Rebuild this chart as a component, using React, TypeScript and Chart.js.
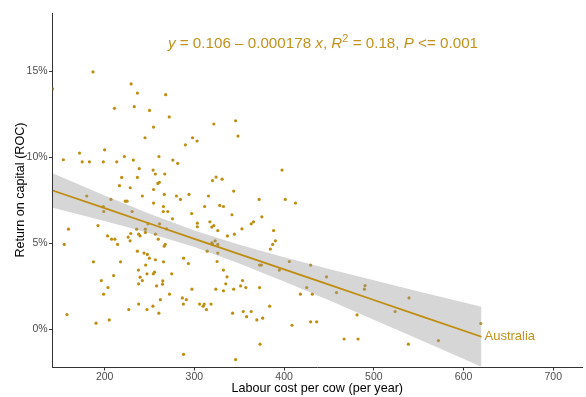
import React, { useEffect, useRef } from "react";
import { Chart, registerables } from "chart.js";

Chart.register(...registerables);

// Scatter data: labour cost per cow (x) and return on capital in % (y)
const LABOUR_COST = [
  142, 187, 229.5, 236.5, 268, 211, 233, 250, 272, 254.5, 245, 298, 303, 290, 172, 200, 154, 175, 183, 198.5,
  213.5, 222, 232, 260.5, 276, 281.5, 238.5, 254, 256.5, 267, 219, 236.5, 216.5, 228.5, 259.3, 261, 254.5, 180,
  207, 223, 225, 242, 266.5, 280, 284.5, 294, 254.5, 265.5, 198.5,
  199, 265.3, 270.4, 230.6, 297, 275.6, 303.3, 303.3, 159.7, 192.6, 261.2, 248.3, 235.7, 245.4, 245.4, 229.1,
  237.9, 239.5, 226.2, 203.3, 207.7, 211.4, 228.4, 256.7, 259.7, 268.9, 214.4, 155, 267.5, 266.4, 236.5, 243.9,
  247.6, 249.8, 256.5, 265.6, 288, 293.3, 187.5, 217.7, 245.7, 237.6, 210, 239.5, 247.2, 254.2, 255.6, 274.8,
  196.3, 242, 237.9, 257.9, 264.8, 264.5, 203.7, 198.9, 272.3, 297.3, 262.1, 286.6, 291, 287.7, 237.9, 253.8,
  226.9, 247.2, 260.4, 158, 205.2, 190.4, 288,
  311.4, 328.3, 332.4, 341.9, 375.2, 317.3, 321.7, 319.5, 326.1, 363.3, 365.9, 353, 388.3, 336.8, 344.6, 390.3,
  387.3, 384.7, 323.1, 319.5, 320.3, 326.1, 314.3, 326.1, 325.3, 372.6, 374.8, 405.8, 429.6, 394.7, 447.3, 332.4,
  336.4, 353.7, 335, 351.5, 357.4, 372.6, 323.9, 332.4, 343.8, 425.2, 418.1, 431.4, 458.4, 305.8, 309.8, 311,
  313.5, 318.6, 342.6, 354.5, 358.2, 363.3, 369.6, 376.1, 383.9, 408.8, 429.6, 436.3, 373.2, 346,
  321.7, 346, 348.6, 397.7, 324.2, 320.2, 330.9, 343.8, 315.7, 372.2, 401.3, 412.7,
  490.2, 489.5, 481.3, 539.2, 523.7, 619.2, 466.9, 482.4, 538.5, 572,
];
const ROC = [
  13.98, 14.97, 14.27, 13.74, 13.65, 12.85, 12.95, 12.73, 12.35, 11.76, 11.14, 11.14, 10.95, 10.73, 10.25, 10.44,
  9.86, 9.74, 9.74, 9.74, 9.74, 10.05, 9.84, 10.05, 9.84, 9.65, 9.34, 9.26, 9.03, 9.03, 8.83, 8.83, 8.35, 8.23,
  8.48, 8.55, 8.13, 7.75, 7.55, 7.45, 7.45, 7.75, 7.84, 7.75, 7.55, 7.84, 7.34, 7.14, 7.14,
  6.85, 6.85, 6.85, 6.85, 6.73, 6.42, 6.17, 5.96, 5.82, 6.03, 6.13, 6.13, 5.82, 5.82, 5.63, 5.57, 5.53, 5.43,
  5.36, 5.43, 5.24, 5.24, 5.14, 5.53, 5.24, 5.84, 4.93, 4.93, 4.93, 4.83, 4.54, 4.43, 4.35, 4.13, 4.04, 3.92,
  4.13, 3.82, 3.92, 3.92, 3.73, 3.44, 3.12, 3.03, 3.22, 3.22, 3.32, 3.22, 2.83, 2.83, 2.64, 2.52, 2.81, 2.62,
  2.42, 2.04, 2.04, 2.33, 1.72, 1.82, 1.72, 1.46, 1.46, 1.34, 1.14, 1.14, 0.93, 0.85, 0.54, 0.35, -1.46,
  7.14, 7.2, 7.14, 6.66, 6.54, 6.25, 6.03, 5.94, 5.74, 6.13, 6.25, 5.84, 5.74, 5.43, 5.53, 5.14, 4.93, 4.66,
  5.14, 5.03, 4.93, 4.93, 4.54, 4.43, 3.94, 3.73, 3.73, 3.94, 3.73, 3.44, 3.05, 3.44, 3.05, 2.83, 2.64, 2.52,
  2.42, 2.42, 2.33, 2.23, 2.33, 2.42, 2.04, 2.04, 2.13, 1.46, 1.34, 1.46, 1.14, 1.46, 0.93, 1.03, 0.73, 1.03,
  0.54, 0.64, 1.34, 0.23, 0.43, 0.43, -0.87, -1.77,
  11.94, 12.13, 11.24, 9.26, 8.85, 8.65, 8.73, 8.04, 7.75, 7.55, 7.55, 7.34,
  2.54, 2.33, 0.83, 1.82, 1.03, 0.33, -0.57, -0.57, -0.87, -0.66,
];

// Fitted line and its confidence band (in %)
const FIT_X = [142, 200, 250, 300, 350, 400, 450, 500, 550, 620];
const FIT_Y = [8.07, 7.04, 6.15, 5.26, 4.37, 3.48, 2.59, 1.7, 0.81, -0.44];
const BAND_UPPER = [9.07, 7.78, 6.72, 5.74, 4.91, 4.18, 3.5, 2.85, 2.2, 1.31];
const BAND_LOWER = [7.07, 6.3, 5.58, 4.78, 3.83, 2.78, 1.68, 0.55, -0.58, -2.19];

const X_TICKS = [200, 300, 400, 500, 600, 700];
const Y_TICKS = [0, 5, 10, 15];
const X_MIN = 142;
const X_MAX = 732;
const Y_MIN = -2.2;
const Y_MAX = 18.4;

const X_TITLE = "Labour cost per cow (per year)";
const Y_TITLE = "Return on capital (ROC)";
const SERIES_LABEL = "Australia";
const EQUATION_PARTS = [
  { t: "y", italic: true },
  { t: " = 0.106 \u2013 0.000178 " },
  { t: "x", italic: true },
  { t: ", " },
  { t: "R", italic: true },
  { t: "2", sup: true },
  { t: " = 0.18, " },
  { t: "P", italic: true },
  { t: " <= 0.001" },
];

const FONT = "'Liberation Sans', Arial, sans-serif";
const GOLD = "#BF8D0F";
const TEXT_GOLD = "#C4921A";

export default function App() {
  const ref = useRef<HTMLCanvasElement | null>(null);

  useEffect(() => {
    document.body.style.margin = "0";
    const canvas = ref.current;
    if (!canvas) return;

    const labelPlugin = {
      id: "labels",
      afterDatasetsDraw(chart: any) {
        const ctx = chart.ctx as CanvasRenderingContext2D;
        const xs = chart.scales.x;
        const ys = chart.scales.y;
        ctx.save();
        // series label at end of fitted line
        ctx.fillStyle = TEXT_GOLD;
        ctx.font = `13px ${FONT}`;
        ctx.textBaseline = "middle";
        ctx.textAlign = "left";
        const lastX = FIT_X[FIT_X.length - 1];
        const lastY = FIT_Y[FIT_Y.length - 1];
        ctx.fillText(SERIES_LABEL, xs.getPixelForValue(lastX) + 3, ys.getPixelForValue(lastY));

        // equation
        const size = 15.2;
        const fontFor = (p: any) =>
          `${p.italic ? "italic " : ""}${p.sup ? Math.round(size * 0.72) : size}px ${FONT}`;
        let total = 0;
        for (const p of EQUATION_PARTS) {
          ctx.font = fontFor(p);
          total += ctx.measureText(p.t).width;
        }
        let cx = 323 - total / 2;
        const base = 48;
        ctx.textBaseline = "alphabetic";
        for (const p of EQUATION_PARTS) {
          ctx.font = fontFor(p);
          ctx.fillText(p.t, cx, p.sup ? base - 6 : base);
          cx += ctx.measureText(p.t).width;
        }
        ctx.restore();
      },
    };

    const chart = new Chart(canvas, {
      type: "scatter",
      data: {
        datasets: [
          {
            type: "line",
            data: FIT_X.map((x, i) => ({ x, y: FIT_Y[i] })),
            borderColor: GOLD,
            borderWidth: 1.8,
            pointRadius: 0,
            fill: false,
            order: 0,
          } as any,
          {
            type: "line",
            data: FIT_X.map((x, i) => ({ x, y: BAND_UPPER[i] })),
            borderWidth: 0,
            borderColor: "rgba(0,0,0,0)",
            pointRadius: 0,
            fill: "+1",
            backgroundColor: "rgba(153,153,153,0.4)",
            order: 1,
          } as any,
          {
            type: "line",
            data: FIT_X.map((x, i) => ({ x, y: BAND_LOWER[i] })),
            borderWidth: 0,
            borderColor: "rgba(0,0,0,0)",
            pointRadius: 0,
            fill: false,
            order: 1,
          } as any,
          {
            type: "scatter",
            data: LABOUR_COST.map((x, i) => ({ x, y: ROC[i] })),
            backgroundColor: GOLD,
            borderWidth: 0,
            pointRadius: 1.6,
            order: 2,
          } as any,
        ],
      },
      options: {
        responsive: false,
        animation: false,
        devicePixelRatio: 1,
        layout: { padding: { top: 13, right: 0, left: 0, bottom: 0 } },
        plugins: { legend: { display: false }, tooltip: { enabled: false } },
        scales: {
          x: {
            type: "linear",
            min: X_MIN,
            max: X_MAX,
            afterBuildTicks: (s: any) => {
              s.ticks = X_TICKS.map((v) => ({ value: v }));
            },
            afterFit: (s: any) => {
              s.height = 30;
            },
            grid: { display: true, drawOnChartArea: false, drawTicks: true, tickLength: 3.5, color: "#333" },
            border: { display: true, color: "#333", width: 1 },
            ticks: {
              color: "#4D4D4D",
              font: { size: 10.5, family: FONT },
              padding: 0,
              maxRotation: 0,
              callback: (v: any) => String(v),
            },
            title: {
              display: true,
              text: X_TITLE,
              color: "#000",
              font: { size: 12.6, family: FONT },
              padding: { top: 0, bottom: 1 },
            },
          },
          y: {
            type: "linear",
            min: Y_MIN,
            max: Y_MAX,
            afterBuildTicks: (s: any) => {
              s.ticks = Y_TICKS.map((v) => ({ value: v }));
            },
            afterFit: (s: any) => {
              s.width = 52.6;
            },
            grid: { display: true, drawOnChartArea: false, drawTicks: true, tickLength: 3.5, color: "#333" },
            border: { display: true, color: "#333", width: 1 },
            ticks: {
              color: "#4D4D4D",
              font: { size: 10.5, family: FONT },
              padding: 1.5,
              callback: (v: any) => `${v}%`,
            },
            title: {
              display: true,
              text: Y_TITLE,
              color: "#000",
              font: { size: 12.6, family: FONT },
              padding: { top: 12.5, bottom: 0 },
            },
          },
        },
      },
      plugins: [labelPlugin],
    } as any);

    return () => chart.destroy();
  }, []);

  return (
    <div style={{ width: 586, height: 397, position: "relative" }}>
      <canvas ref={ref} width={586} height={397} style={{ display: "block" }} />
    </div>
  );
}
